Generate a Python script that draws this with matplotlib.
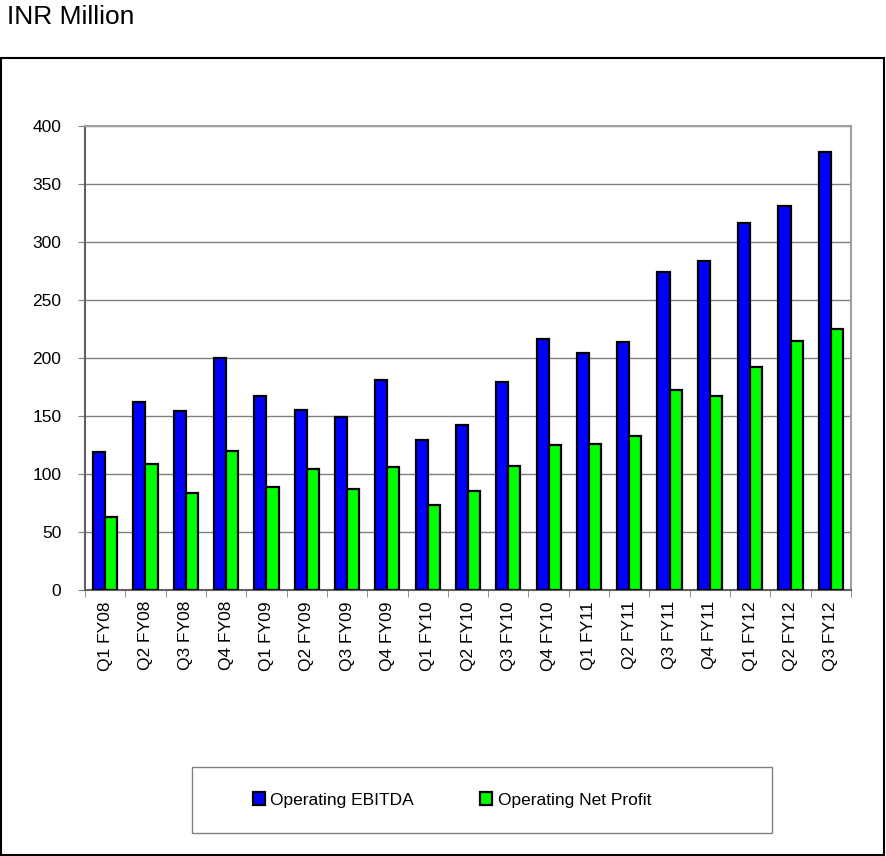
import matplotlib
matplotlib.use("Agg")
import matplotlib.pyplot as plt
import numpy as np
from matplotlib.patches import Rectangle

plt.rcParams['font.family'] = ['Liberation Sans', 'DejaVu Sans']

categories = ["Q1 FY08", "Q2 FY08", "Q3 FY08", "Q4 FY08", "Q1 FY09", "Q2 FY09", "Q3 FY09",
              "Q4 FY09", "Q1 FY10", "Q2 FY10", "Q3 FY10", "Q4 FY10", "Q1 FY11", "Q2 FY11",
              "Q3 FY11", "Q4 FY11", "Q1 FY12", "Q2 FY12", "Q3 FY12"]
ebitda = [119, 162, 154, 200, 167, 155, 149, 181, 129, 142, 179, 216, 204, 214, 274, 284, 316, 331, 378]
net_profit = [63, 109, 84, 120, 89, 104, 87, 106, 73, 85, 107, 125, 126, 133, 172, 167, 192, 215, 225]

W, H = 886, 856
fig = plt.figure(figsize=(W / 100, H / 100), dpi=100)

# outer border
fig.patches.append(Rectangle((1 / W, 1 / H), (W - 3) / W, (856 - 59) / H,
                             transform=fig.transFigure, fill=False,
                             edgecolor='black', linewidth=1.5))
fig.text(7 / W, 1 - 17 / H, "INR Million", fontsize=19, va='center', ha='left')

ax = fig.add_axes([85 / W, 1 - 590 / H, (851 - 85) / W, (590 - 126) / H])
x = np.arange(len(categories))
bw = 0.3
ax.bar(x - bw / 2, ebitda, bw, color='#0000FF', edgecolor='black', linewidth=1.6,
       label='Operating EBITDA', zorder=3)
ax.bar(x + bw / 2, net_profit, bw, color='#00FF00', edgecolor='black', linewidth=1.6,
       label='Operating Net Profit', zorder=3)

ax.set_xlim(-0.5, len(categories) - 0.5)
ax.set_ylim(0, 400)
ax.set_yticks(np.arange(0, 401, 50))
ax.yaxis.grid(True, color='#808080', linewidth=1, zorder=0)
ax.set_axisbelow(True)

ax.set_xticks(x)
ax.set_xticklabels(categories, rotation=90, fontsize=12.5)
ax.tick_params(axis='x', length=0, pad=8)
ax.set_xticks(np.arange(-0.5, len(categories), 1), minor=True)
ax.tick_params(axis='x', which='minor', length=5, color='#808080', direction='out')
ax.tick_params(axis='y', labelsize=12.5, length=5, color='#808080', direction='out', pad=12)

for s in ['top', 'right']:
    ax.spines[s].set_color('#A0A0A0')
    ax.spines[s].set_linewidth(1.5)
for s in ['left', 'bottom']:
    ax.spines[s].set_color('#606060')
    ax.spines[s].set_linewidth(1.5)

# legend box
fig.patches.append(Rectangle((192 / W, 1 - 833 / H), (772 - 192) / W, (833 - 767) / H,
                             transform=fig.transFigure, fill=False,
                             edgecolor='#808080', linewidth=1))
leg = fig.legend(loc='center', bbox_to_anchor=(452 / W, 1 - 800 / H), ncol=2,
                 frameon=False, fontsize=12.5,
                 handlelength=0.7, handleheight=0.7, handletextpad=0.3, columnspacing=3.8,
                 borderpad=0, borderaxespad=0)

fig.savefig("out.png", dpi=100)
